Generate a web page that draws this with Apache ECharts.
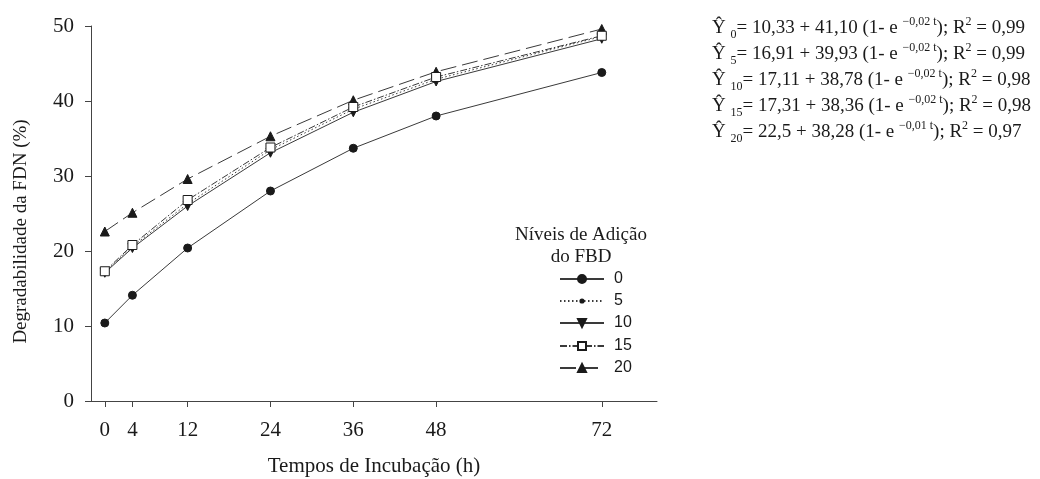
<!DOCTYPE html>
<html>
<head>
<meta charset="utf-8">
<script src="https://cdn.jsdelivr.net/npm/echarts@6/dist/echarts.min.js"></script>
<style>html,body{margin:0;padding:0;background:#fff;}#c{width:1040px;height:479px;}</style>
</head>
<body>
<div id="c"></div>
<script>
// ---- data ----
var times = [0, 4, 12, 24, 36, 48, 72];
var levels = ['0', '5', '10', '15', '20'];
var y0  = [10.4, 14.1, 20.4, 28.0, 33.7, 38.0, 43.8];
var y5  = [17.2, 20.6, 26.3, 33.5, 38.9, 42.9, 48.6];
var y10 = [17.1, 20.4, 26.0, 33.1, 38.5, 42.6, 48.3];
var y15 = [17.3, 20.8, 26.8, 33.8, 39.2, 43.2, 48.7];
var y20 = [22.6, 25.1, 29.6, 35.3, 40.1, 43.9, 49.6];
var yTicks = [0, 10, 20, 30, 40, 50];
var eqA  = ['10,33', '16,91', '17,11', '17,31', '22,5'];
var eqB  = ['41,10', '39,93', '38,78', '38,36', '38,28'];
var eqK  = ['0,02', '0,02', '0,02', '0,02', '0,01'];
var eqR2 = ['0,99', '0,99', '0,98', '0,98', '0,97'];
var xTitle = 'Tempos de Incubação (h)';
var yTitle = 'Degradabilidade da FDN (%)';
var legendTitle = ['Níveis de Adição', 'do FBD'];

var serif = '"Liberation Serif", "Times New Roman", serif';
var sans = '"Liberation Sans", Arial, sans-serif';
var ink = '#1a1a1a';

function pts(arr) { return times.map(function (t, i) { return [t, arr[i]]; }); }

var styles = {
  '0':  {data: y0,  symbol: 'circle',   size: 8, rotate: 0,   fill: ink,    type: 'solid',          lh: 10},
  '5':  {data: y5,  symbol: 'circle',   size: 3, rotate: 0,   fill: ink,    type: [1.5, 2.5],       lh: 4},
  '10': {data: y10, symbol: 'triangle', size: 9, rotate: 180, fill: ink,    type: 'solid',          lh: 10},
  '15': {data: y15, symbol: 'rect',     size: 9, rotate: 0,   fill: '#fff', type: [7, 2, 1.5, 2],   lh: 10},
  '20': {data: y20, symbol: 'triangle', size: 9, rotate: 0,   fill: ink,    type: [16, 6],          lh: 10}
};
var legendY = [279, 301, 323, 346, 368];

var series = levels.map(function (lv) {
  var s = styles[lv];
  return {
    name: lv,
    type: 'line',
    data: pts(s.data),
    smooth: false,
    symbol: s.symbol,
    symbolSize: s.size,
    symbolRotate: s.rotate,
    showAllSymbol: true,
    lineStyle: {color: '#3a3a3a', width: 1, type: s.type},
    itemStyle: {color: s.fill, borderColor: ink, borderWidth: 1},
    emphasis: {disabled: true},
    z: lv === '15' ? 5 : 3
  };
});

var legends = levels.map(function (lv, i) {
  var s = styles[lv];
  return {
    orient: 'vertical', left: 559, top: legendY[i] - 8, padding: 0,
    itemWidth: 44, itemHeight: s.lh,
    textStyle: {fontFamily: sans, fontSize: 16, color: ink, lineHeight: 16, padding: [0, 0, 0, 5]},
    data: [lv],
    selectedMode: false
  };
});

var graphics = [];
legendTitle.forEach(function (t, i) {
  graphics.push({
    type: 'text', x: 581, y: 235 + i * 22,
    style: {text: t, font: '19px ' + serif, fill: ink, align: 'center', verticalAlign: 'middle'}
  });
});
levels.forEach(function (lv, i) {
  var txt = '{m|Ŷ }{s|' + lv + '}{m|= ' + eqA[i] + ' + ' + eqB[i] + ' (1- e }{p|\u2212' + eqK[i] + ' t}{m|); R}{p|2}{m| = ' + eqR2[i] + '}';
  graphics.push({
    type: 'text', left: 712, top: 16 + i * 26,
    style: {
      text: txt,
      fill: ink,
      rich: {
        m: {fontSize: 19, fontFamily: serif, lineHeight: 25, fill: ink},
        s: {fontSize: 12, fontFamily: serif, lineHeight: 12, verticalAlign: 'bottom', fill: ink},
        p: {fontSize: 12, fontFamily: serif, lineHeight: 12, verticalAlign: 'top', fill: ink}
      }
    }
  });
});

var chart = echarts.init(document.getElementById('c'), null, {renderer: 'canvas'});
chart.setOption({
  animation: false,
  backgroundColor: '#fff',
  grid: {left: 91, right: 383, top: 26, bottom: 78, containLabel: false, outerBoundsMode: 'none'},
  xAxis: {
    type: 'value', min: -2, max: 80,
    name: xTitle, nameLocation: 'middle', nameGap: 55,
    nameTextStyle: {fontFamily: serif, fontSize: 21, color: ink},
    axisLine: {show: true, onZero: false, lineStyle: {color: '#444', width: 1}},
    axisTick: {show: true, customValues: times, length: 6, lineStyle: {color: '#444'}},
    axisLabel: {customValues: times, margin: 19, fontFamily: serif, fontSize: 21, color: ink},
    splitLine: {show: false}
  },
  yAxis: {
    type: 'value', min: 0, max: 50, interval: 10,
    name: yTitle, nameLocation: 'middle', nameGap: 60,
    nameTextStyle: {fontFamily: serif, fontSize: 19, color: ink, padding: [0, 36, 0, 0]},
    axisLine: {show: true, onZero: false, lineStyle: {color: '#444', width: 1}},
    axisTick: {show: true, length: 6, lineStyle: {color: '#444'}},
    axisLabel: {margin: 17, fontFamily: serif, fontSize: 21, color: ink,
      formatter: function (v) { return yTicks.indexOf(v) >= 0 ? String(v) : ''; }},
    splitLine: {show: false}
  },
  legend: legends,
  graphic: graphics,
  series: series
});
</script>
</body>
</html>
